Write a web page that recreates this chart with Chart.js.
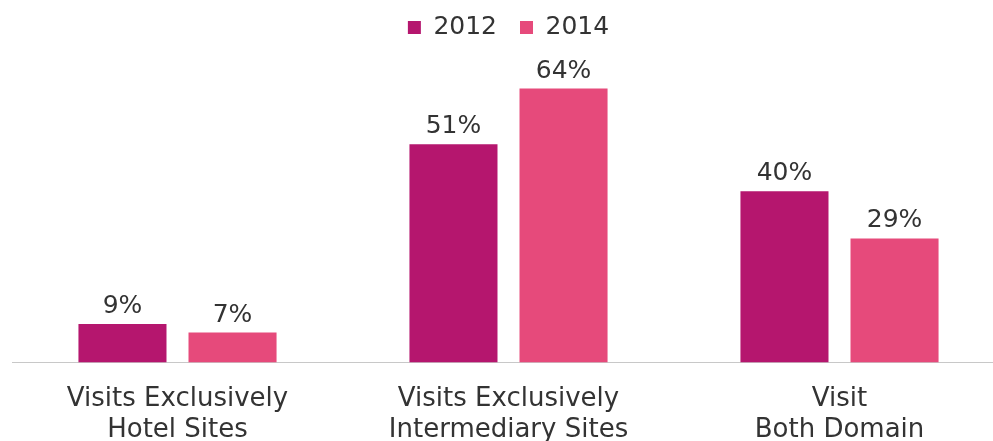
<!DOCTYPE html>
<html>
<head>
<meta charset="utf-8">
<script src="https://cdn.jsdelivr.net/npm/chart.js@4.4.0/dist/chart.umd.min.js"></script>
<style>
  html, body { margin: 0; padding: 0; background: #fff; overflow: hidden; }
  #wrap { position: absolute; left: 0; top: 0; width: 1010px; height: 459px; }
</style>
</head>
<body>
<div id="wrap"><canvas id="myChart" width="1010" height="459"></canvas></div>
<script>
const categories = [
  ['Visits Exclusively', 'Hotel Sites'],
  ['Visits Exclusively', 'Intermediary Sites'],
  ['Visit', 'Both Domain']
];
const values2012 = [9, 51, 40];
const values2014 = [7, 64, 29];

const FONT = '"DejaVu Sans", sans-serif';

// simple labels above each bar
const barLabels = {
  id: 'barLabels',
  afterDatasetsDraw(chart) {
    const ctx = chart.ctx;
    ctx.save();
    ctx.font = '25px ' + FONT;
    ctx.fillStyle = '#333333';
    ctx.textAlign = 'center';
    ctx.textBaseline = 'alphabetic';
    chart.data.datasets.forEach((ds, i) => {
      chart.getDatasetMeta(i).data.forEach((bar, j) => {
        ctx.fillText(ds.data[j] + '%', bar.x, bar.y - 11);
      });
    });
    ctx.restore();
  }
};

const ctx = document.getElementById('myChart').getContext('2d');
new Chart(ctx, {
  type: 'bar',
  data: {
    labels: categories,
    datasets: [
      {
        label: '2012',
        data: values2012,
        backgroundColor: '#B5166E',
        categoryPercentage: 0.665,
        barPercentage: 0.8
      },
      {
        label: '2014',
        data: values2014,
        backgroundColor: '#E64A7B',
        categoryPercentage: 0.665,
        barPercentage: 0.8
      }
    ]
  },
  options: {
    responsive: false,
    animation: false,
    layout: { padding: { left: 12, right: 5, top: -8, bottom: 0 } },
    plugins: {
      tooltip: { enabled: false },
      legend: {
        position: 'top',
        labels: {
          boxWidth: 13,
          boxHeight: 13,
          padding: 23,
          color: '#333333',
          font: { size: 25, family: FONT }
        }
      }
    },
    scales: {
      x: {
        grid: { display: false },
        border: { display: true, color: '#c8c8c8', width: 1 },
        ticks: {
          color: '#333333',
          padding: 13,
          maxRotation: 0,
          autoSkip: false,
          font: { size: 26, family: FONT, lineHeight: 1.2 }
        }
      },
      y: {
        display: false,
        min: 0,
        max: 73
      }
    }
  },
  plugins: [barLabels]
});
</script>
</body>
</html>
